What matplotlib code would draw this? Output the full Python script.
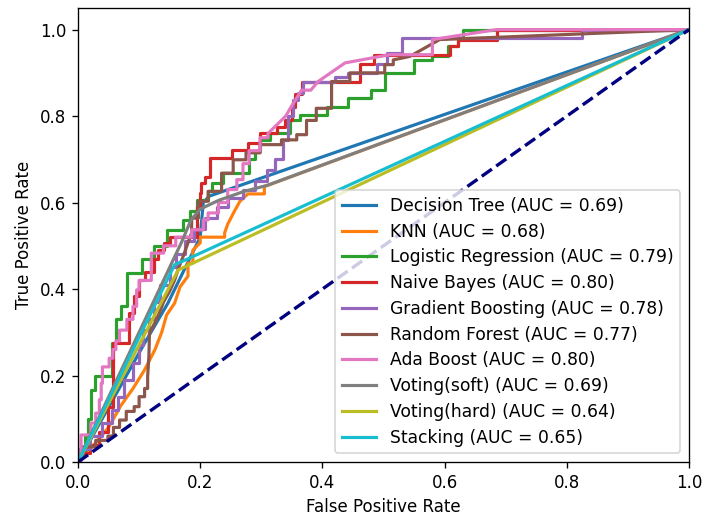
import matplotlib
matplotlib.use("Agg")
import matplotlib.pyplot as plt

model_names = ["Decision Tree", "KNN", "Logistic Regression", "Naive Bayes",
               "Gradient Boosting", "Random Forest", "Ada Boost",
               "Voting(soft)", "Voting(hard)", "Stacking"]
auc_values = [0.69, 0.68, 0.79, 0.80, 0.78, 0.77, 0.80, 0.69, 0.64, 0.65]

dt_fpr = [0, 0.107, 0.147, 0.200, 0.205, 0.215, 1]
dt_tpr = [0, 0.270, 0.367, 0.520, 0.600, 0.615, 1]

knn_fpr = [0, 0.02, 0.05, 0.07, 0.09, 0.109, 0.126, 0.137, 0.145, 0.158, 0.167, 0.18, 0.18,
           0.188, 0.188, 0.2, 0.2, 0.24, 0.24, 0.245, 0.256, 0.265, 0.278, 0.305, 0.305, 1]
knn_tpr = [0, 0.03, 0.08, 0.13, 0.17, 0.213, 0.26, 0.30, 0.34, 0.367, 0.405, 0.43, 0.46,
           0.46, 0.49, 0.507, 0.52, 0.52, 0.53, 0.55, 0.58, 0.603, 0.62, 0.62, 0.637, 1]

lr_fpr = [0, 0, 0.011, 0.011, 0.016, 0.016, 0.022, 0.022, 0.028, 0.028, 0.055, 0.055,
          0.063, 0.063, 0.071, 0.071, 0.08, 0.08, 0.104, 0.104, 0.125, 0.125, 0.145, 0.145,
          0.172, 0.172, 0.183, 0.183, 0.195, 0.195, 0.213, 0.213, 0.219, 0.219, 0.238, 0.238,
          0.28, 0.28, 0.29, 0.29, 0.298, 0.298, 0.314, 0.314, 0.347, 0.347, 0.363, 0.363,
          0.407, 0.407, 0.442, 0.442, 0.48, 0.48, 0.502, 0.502, 0.55, 0.55, 0.58, 0.58,
          0.605, 0.605, 0.622, 0.622, 0.63, 0.63, 1]
lr_tpr = [0, 0.02, 0.02, 0.06, 0.06, 0.10, 0.10, 0.167, 0.167, 0.20, 0.20, 0.275,
          0.275, 0.33, 0.33, 0.36, 0.36, 0.437, 0.437, 0.47, 0.47, 0.50, 0.50, 0.537,
          0.537, 0.56, 0.56, 0.58, 0.58, 0.605, 0.605, 0.626, 0.626, 0.645, 0.645, 0.668,
          0.668, 0.70, 0.70, 0.72, 0.72, 0.745, 0.745, 0.76, 0.76, 0.79, 0.79, 0.803,
          0.803, 0.822, 0.822, 0.842, 0.842, 0.861, 0.861, 0.90, 0.90, 0.93, 0.93, 0.94,
          0.94, 0.961, 0.961, 0.98, 0.98, 1.0, 1]

nb_fpr = [0, 0, 0.02, 0.02, 0.035, 0.035, 0.049, 0.049, 0.057, 0.057, 0.084, 0.084,
          0.092, 0.092, 0.1, 0.1, 0.11, 0.11, 0.125, 0.125, 0.131, 0.131, 0.14, 0.14,
          0.15, 0.15, 0.194, 0.194, 0.2, 0.2, 0.202, 0.202, 0.208, 0.208, 0.216, 0.216,
          0.252, 0.252, 0.279, 0.279, 0.298, 0.298, 0.325, 0.325, 0.339, 0.339, 0.35, 0.35,
          0.355, 0.355, 0.366, 0.366, 0.462, 0.462, 0.484, 0.484, 0.609, 0.609, 0.622, 0.622,
          0.685, 0.685, 1]
nb_tpr = [0, 0.02, 0.02, 0.04, 0.04, 0.07, 0.07, 0.128, 0.128, 0.275, 0.275, 0.344,
          0.344, 0.383, 0.383, 0.42, 0.42, 0.44, 0.44, 0.47, 0.47, 0.49, 0.49, 0.506,
          0.506, 0.52, 0.52, 0.59, 0.59, 0.622, 0.622, 0.645, 0.645, 0.66, 0.66, 0.703,
          0.703, 0.722, 0.722, 0.738, 0.738, 0.76, 0.76, 0.775, 0.775, 0.79, 0.79, 0.822,
          0.822, 0.85, 0.85, 0.88, 0.88, 0.92, 0.92, 0.942, 0.942, 0.961, 0.961, 0.977,
          0.977, 1.0, 1]

gb_fpr = [0, 0, 0.02, 0.02, 0.04, 0.04, 0.055, 0.055, 0.065, 0.065, 0.075, 0.075,
          0.09, 0.09, 0.1, 0.1, 0.106, 0.106, 0.117, 0.117, 0.125, 0.125, 0.135, 0.135,
          0.15, 0.15, 0.16, 0.16, 0.175, 0.175, 0.19, 0.19, 0.208, 0.208, 0.227, 0.227,
          0.245, 0.245, 0.27, 0.27, 0.29, 0.29, 0.31, 0.31, 0.322, 0.322, 0.336, 0.336,
          0.344, 0.344, 0.352, 0.352, 0.36, 0.36, 0.368, 0.368, 0.42, 0.42, 0.442, 0.442,
          0.49, 0.49, 0.505, 0.505, 0.53, 0.53, 0.825, 0.825, 1]
gb_tpr = [0, 0.03, 0.03, 0.06, 0.06, 0.09, 0.09, 0.12, 0.12, 0.15, 0.15, 0.19,
          0.19, 0.23, 0.23, 0.27, 0.27, 0.305, 0.305, 0.33, 0.33, 0.37, 0.37, 0.41,
          0.41, 0.45, 0.45, 0.48, 0.48, 0.51, 0.51, 0.54, 0.54, 0.565, 0.565, 0.59,
          0.59, 0.61, 0.61, 0.63, 0.63, 0.649, 0.649, 0.675, 0.675, 0.70, 0.70, 0.745,
          0.745, 0.80, 0.80, 0.838, 0.838, 0.853, 0.853, 0.88, 0.88, 0.89, 0.89, 0.90,
          0.90, 0.92, 0.92, 0.946, 0.946, 0.98, 0.98, 1.0, 1]

rf_fpr = [0, 0, 0.008, 0.008, 0.029, 0.029, 0.049, 0.049, 0.058, 0.058, 0.068, 0.068,
          0.079, 0.079, 0.092, 0.092, 0.1, 0.1, 0.109, 0.109, 0.114, 0.114, 0.116, 0.117,
          0.125, 0.133, 0.14, 0.15, 0.158, 0.165, 0.172, 0.18, 0.186, 0.186, 0.197, 0.197,
          0.213, 0.213, 0.235, 0.235, 0.254, 0.254, 0.275, 0.275, 0.298, 0.298, 0.333, 0.333,
          0.358, 0.358, 0.374, 0.374, 0.39, 0.39, 0.415, 0.415, 0.445, 0.445, 0.502, 0.502,
          0.516, 0.516, 0.543, 0.592, 1]
rf_tpr = [0, 0.01, 0.01, 0.035, 0.035, 0.05, 0.05, 0.06, 0.06, 0.08, 0.08, 0.097,
          0.097, 0.117, 0.117, 0.128, 0.128, 0.151, 0.151, 0.17, 0.17, 0.198, 0.244, 0.298,
          0.32, 0.344, 0.37, 0.395, 0.42, 0.45, 0.475, 0.507, 0.53, 0.564, 0.564, 0.603,
          0.603, 0.626, 0.626, 0.668, 0.668, 0.699, 0.699, 0.715, 0.715, 0.734, 0.734, 0.745,
          0.745, 0.757, 0.757, 0.79, 0.79, 0.818, 0.818, 0.88, 0.88, 0.90, 0.90, 0.919,
          0.919, 0.93, 0.938, 0.977, 1]

ada_fpr = [0, 0.005, 0.005, 0.021, 0.021, 0.029, 0.029, 0.035, 0.035, 0.038, 0.038, 0.04,
           0.04, 0.051, 0.051, 0.057, 0.057, 0.062, 0.062, 0.068, 0.068, 0.08, 0.08, 0.09,
           0.09, 0.096, 0.096, 0.1, 0.1, 0.12, 0.12, 0.14, 0.14, 0.16, 0.16, 0.186,
           0.186, 0.205, 0.205, 0.213, 0.213, 0.23, 0.23, 0.245, 0.245, 0.26, 0.26, 0.27,
           0.27, 0.28, 0.28, 0.298, 0.298, 0.311, 0.311, 0.34, 0.349, 0.366, 0.381, 0.393,
           0.437, 0.51, 0.58, 0.58, 0.685, 1]
ada_tpr = [0, 0, 0.0625, 0.0625, 0.09, 0.09, 0.113, 0.113, 0.144, 0.144, 0.182, 0.182,
           0.22, 0.22, 0.24, 0.24, 0.26, 0.26, 0.28, 0.28, 0.305, 0.305, 0.33, 0.33,
           0.36, 0.36, 0.398, 0.398, 0.42, 0.42, 0.483, 0.483, 0.50, 0.50, 0.52, 0.52,
           0.537, 0.537, 0.56, 0.56, 0.576, 0.576, 0.60, 0.60, 0.63, 0.63, 0.653, 0.653,
           0.69, 0.69, 0.72, 0.72, 0.75, 0.75, 0.76, 0.80, 0.822, 0.86, 0.86, 0.88,
           0.923, 0.942, 0.942, 0.977, 1.0, 1]

vs_fpr = [0, 0.17, 0.185, 0.20, 0.23, 0.27, 0.31, 1]
vs_tpr = [0, 0.51, 0.56, 0.585, 0.605, 0.625, 0.64, 1]

vh_fpr = [0, 0.164, 1]
vh_tpr = [0, 0.444, 1]

st_fpr = [0, 0.158, 0.18, 1]
st_tpr = [0, 0.456, 0.47, 1]

fprs = [dt_fpr, knn_fpr, lr_fpr, nb_fpr, gb_fpr, rf_fpr, ada_fpr, vs_fpr, vh_fpr, st_fpr]
tprs = [dt_tpr, knn_tpr, lr_tpr, nb_tpr, gb_tpr, rf_tpr, ada_tpr, vs_tpr, vh_tpr, st_tpr]

fig = plt.figure(figsize=(704/120, 516/120), dpi=120)
ax = fig.add_axes([78/704, 54/516, 611/704, 454/516])

for name, auc, f, t in zip(model_names, auc_values, fprs, tprs):
    ax.plot(f, t, lw=1.9, label=f"{name} (AUC = {auc:.2f})")

ax.plot([0, 1], [0, 1], color="navy", lw=2, linestyle="--")
ax.set_xlim([0.0, 1.0])
ax.set_ylim([0.0, 1.05])
ax.set_xlabel("False Positive Rate")
ax.set_ylabel("True Positive Rate")
ax.legend(loc="lower right", fontsize=10.3, labelspacing=0.45, handlelength=2.0)

fig.savefig("out.png", dpi=120)
